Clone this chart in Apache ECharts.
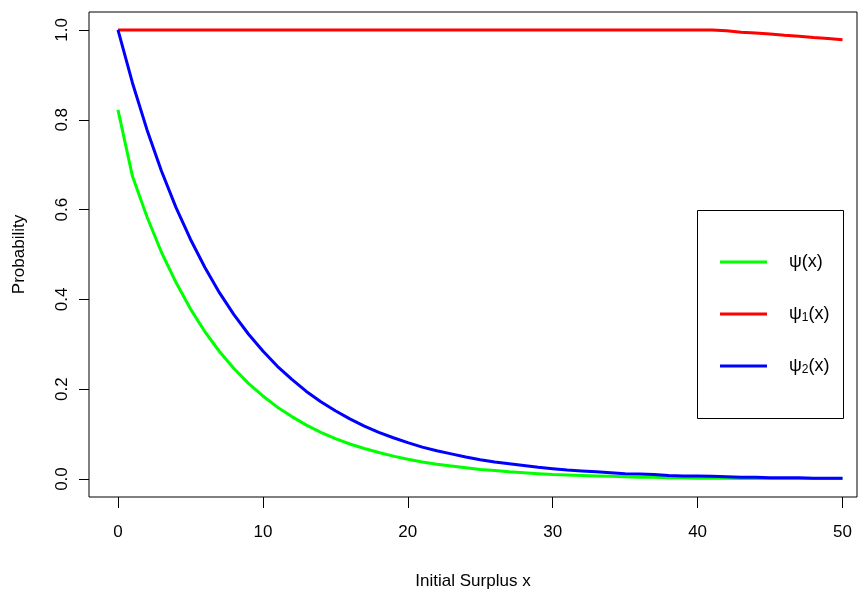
<!DOCTYPE html>
<html>
<head>
<meta charset="utf-8">
<script src="https://cdn.jsdelivr.net/npm/echarts@6/dist/echarts.min.js"></script>
<style>
  html, body { margin: 0; padding: 0; background: #fff; }
  #main { width: 860px; height: 589px; }
</style>
</head>
<body>
<div id="main"></div>
<script>
// initial surplus x = 0..50
var surplus = [0, 1, 2, 3, 4, 5, 6, 7, 8, 9, 10, 11, 12, 13, 14, 15, 16, 17, 18, 19, 20,
    21, 22, 23, 24, 25, 26, 27, 28, 29, 30, 31, 32, 33, 34, 35, 36, 37, 38, 39, 40,
    41, 42, 43, 44, 45, 46, 47, 48, 49, 50];

// psi(x)
var psi = [0.822, 0.674, 0.584, 0.505, 0.438, 0.379, 0.328, 0.284, 0.246, 0.213, 0.185,
    0.160, 0.139, 0.120, 0.104, 0.090, 0.078, 0.068, 0.059, 0.051, 0.044,
    0.038, 0.033, 0.029, 0.025, 0.021, 0.019, 0.016, 0.014, 0.012, 0.010,
    0.009, 0.008, 0.007, 0.006, 0.005, 0.004, 0.004, 0.003, 0.003, 0.002,
    0.002, 0.002, 0.001, 0.001, 0.001, 0.001, 0.001, 0.001, 0.001, 0.001];

// psi_1(x)
var psi1 = [1, 1, 1, 1, 1, 1, 1, 1, 1, 1, 1,
    1, 1, 1, 1, 1, 1, 1, 1, 1, 1,
    1, 1, 1, 1, 1, 1, 1, 1, 1, 1,
    1, 1, 1, 1, 1, 1, 1, 1, 1, 1,
    1, 0.998, 0.995, 0.993, 0.991, 0.988, 0.986, 0.983, 0.981, 0.978];

// psi_2(x)
var psi2 = [1.000, 0.882, 0.778, 0.686, 0.605, 0.534, 0.471, 0.415, 0.366, 0.323, 0.285,
    0.251, 0.222, 0.195, 0.172, 0.152, 0.134, 0.118, 0.104, 0.092, 0.081,
    0.071, 0.063, 0.056, 0.049, 0.043, 0.038, 0.034, 0.030, 0.026, 0.023,
    0.020, 0.018, 0.016, 0.014, 0.012, 0.011, 0.010, 0.008, 0.007, 0.007,
    0.006, 0.005, 0.004, 0.004, 0.003, 0.003, 0.003, 0.002, 0.002, 0.002];

var xTicks = [0, 10, 20, 30, 40, 50];
var yTicks = [0, 0.2, 0.4, 0.6, 0.8, 1.0];

var seriesNames = ['psi', 'psi1', 'psi2'];
var legendLabels = {
    psi: '{n|ψ(x)}',
    psi1: '{n|ψ}{s|1}{n|(x)}',
    psi2: '{n|ψ}{s|2}{n|(x)}'
};

var font = 'Liberation Sans, Arial, sans-serif';

function pairs(ys) {
    return surplus.map(function (x, i) { return [x, ys[i]]; });
}

var option = {
    animation: false,
    backgroundColor: '#fff',
    textStyle: { fontFamily: font },
    grid: {
        left: 89, right: 3, top: 12, bottom: 92,
        outerBoundsMode: 'none',
        containLabel: false,
        show: true,
        borderColor: '#000',
        borderWidth: 1,
        backgroundColor: 'transparent'
    },
    graphic: [{
        type: 'rect',
        x: 697.5, y: 210.5,
        shape: { width: 146, height: 208 },
        style: { fill: 'none', stroke: '#000', lineWidth: 1 },
        z: 10
    }],
    legend: {
        orient: 'vertical',
        left: 720, top: 252,
        padding: 0,
        itemWidth: 47,
        itemHeight: 3,
        itemGap: 32,
        icon: 'rect',
        data: seriesNames,
        formatter: function (name) { return legendLabels[name]; },
        textStyle: {
            padding: [0, 0, 0, 17],
            lineHeight: 20,
            rich: {
                n: { fontSize: 18, lineHeight: 20, fontFamily: font, color: '#000' },
                s: { fontSize: 12, lineHeight: 20, fontFamily: font, color: '#000', verticalAlign: 'bottom' }
            }
        }
    },
    xAxis: {
        type: 'value',
        min: -2, max: 51,
        name: 'Initial Surplus x',
        nameLocation: 'middle',
        nameGap: 76,
        nameTextStyle: { fontSize: 17, color: '#000', fontFamily: font },
        splitLine: { show: false },
        axisLine: { show: false, onZero: false },
        axisTick: { show: true, length: 11, customValues: xTicks, lineStyle: { color: '#000' } },
        axisLabel: {
            customValues: xTicks,
            margin: 27,
            fontSize: 17,
            color: '#000',
            fontFamily: font
        }
    },
    yAxis: {
        type: 'value',
        min: -0.04, max: 1.04,
        name: 'Probability',
        nameLocation: 'middle',
        nameGap: 61,
        nameTextStyle: { fontSize: 17, color: '#000', fontFamily: font },
        splitLine: { show: false },
        axisLine: { show: false, onZero: false },
        axisTick: { show: true, length: 10, customValues: yTicks, lineStyle: { color: '#000' } },
        axisLabel: {
            customValues: yTicks,
            rotate: 90,
            margin: 18,
            fontSize: 17,
            color: '#000',
            fontFamily: font,
            formatter: function (v) { return v.toFixed(1); }
        }
    },
    series: [
        {
            name: 'psi', type: 'line', data: pairs(psi),
            showSymbol: false, symbol: 'none',
            color: '#00ff00',
            lineStyle: { width: 3, color: '#00ff00' }
        },
        {
            name: 'psi1', type: 'line', data: pairs(psi1),
            showSymbol: false, symbol: 'none',
            color: '#ff0000',
            lineStyle: { width: 3, color: '#ff0000' }
        },
        {
            name: 'psi2', type: 'line', data: pairs(psi2),
            showSymbol: false, symbol: 'none',
            color: '#0000ff',
            lineStyle: { width: 3, color: '#0000ff' }
        }
    ]
};

echarts.init(document.getElementById('main')).setOption(option);
</script>
</body>
</html>
